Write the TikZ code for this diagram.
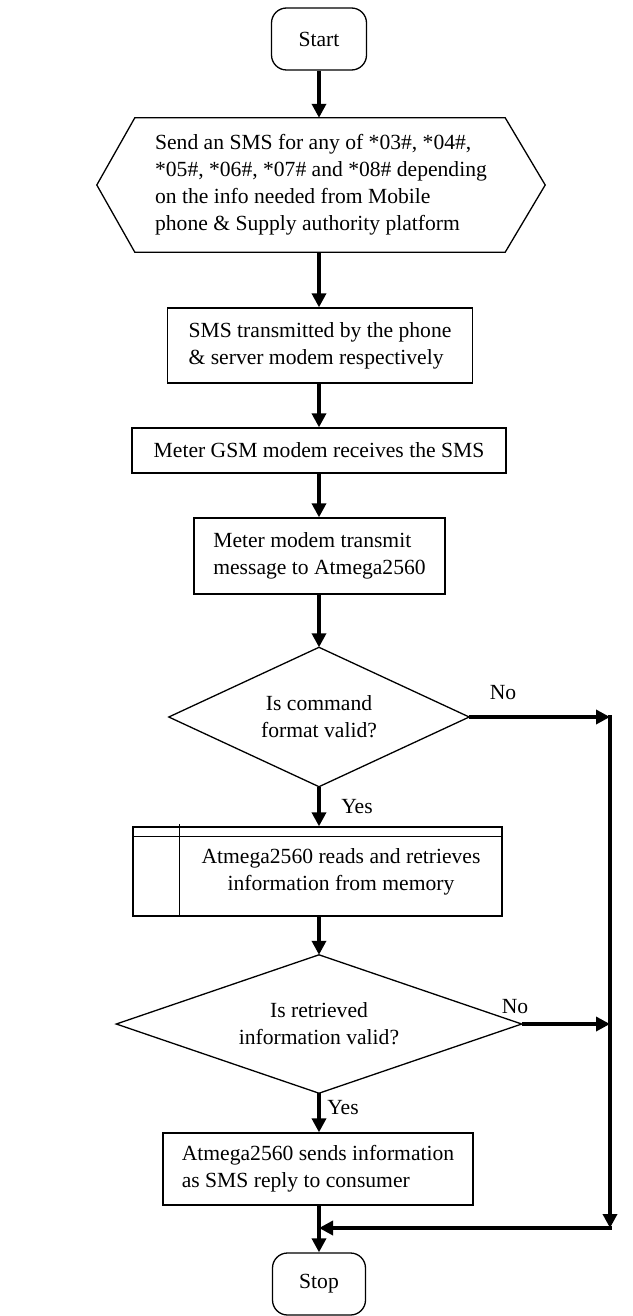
\documentclass[tikz,border=0pt]{standalone}
\usepackage{fontspec}
\setmainfont{Liberation Serif}
\usetikzlibrary{arrows.meta,calc}
\begin{document}
\begin{tikzpicture}[x=1pt,y=-1pt,
  every node/.style={font=\fontsize{21.6}{27}\selectfont},
  box/.style={draw, line width=1.3pt, align=left, inner sep=0pt},
  term/.style={draw, line width=1.3pt, rounded corners=15pt, inner sep=0pt},
  decision/.style={align=center, inner sep=0pt},
  shapeline/.style={line width=1.3pt},
  arr/.style={line width=3.4pt, -{Triangle[length=14pt,width=14pt]}},
  lbl/.style={inner sep=0pt}]
\useasboundingbox (0,0) rectangle (632,1316);

\node[term, minimum width=95pt, minimum height=62pt] (start) at (319,39) {Start};

\node[inner sep=0pt, minimum width=448pt, minimum height=134pt, align=left] (hex) at (321,185)
  {Send an SMS for any of *03\#, *04\#,\\*05\#, *06\#, *07\# and *08\# depending\\on the info needed from Mobile\\phone \& Supply authority platform};
\draw[shapeline] (hex.west) -- ($(hex.north west)+(38,0)$) -- ($(hex.north east)+(-40,0)$)
  -- (hex.east) -- ($(hex.south east)+(-40,0)$) -- ($(hex.south west)+(38,0)$) -- cycle;

\node[box, minimum width=305pt, minimum height=75pt] (b1) at (320,345.5)
  {SMS transmitted by the phone\\\& server modem respectively};
\node[box, minimum width=374pt, minimum height=45pt] (b2) at (319,450.5)
  {Meter GSM modem receives the SMS};
\node[box, minimum width=251pt, minimum height=76pt] (b3) at (319.5,556)
  {Meter modem transmit\\message to Atmega2560};

\node[decision, minimum width=300pt, minimum height=139pt] (d1) at (319,717)
  {Is command\\format valid?};
\draw[shapeline] (d1.north) -- (d1.east) -- (d1.south) -- (d1.west) -- cycle;

\node[box, minimum width=369pt, minimum height=89pt] (sub) at (317.5,871.5) {};
\node[align=center, inner sep=0pt] (subt) at (341,872)
  {Atmega2560 reads and retrieves\\information from memory};
\draw[shapeline] ($(sub.north west)+(47,-2)$) -- ($(sub.south west)+(47,0)$);
\draw[shapeline] ($(sub.north west)+(0,10)$) -- ($(sub.north east)+(0,10)$);

\node[decision, minimum width=405pt, minimum height=138pt] (d2) at (319,1024)
  {Is retrieved\\information valid?};
\draw[shapeline] (d2.north) -- (d2.east) -- (d2.south) -- (d2.west) -- cycle;

\node[box, minimum width=310pt, minimum height=72pt] (b4) at (318,1169)
  {Atmega2560 sends information\\as SMS reply to consumer};

\node[term, minimum width=93pt, minimum height=62pt] (stop) at (319,1284) {Stop};

\node[lbl] (no1) at (503,693) {No};
\node[lbl] (yes1) at (357,807) {Yes};
\node[lbl] (no2) at (515,1007) {No};
\node[lbl] (yes2) at (343,1108) {Yes};

\coordinate (rt) at (610,717);
\coordinate (rb) at (610,1228);
\coordinate (jn) at (319,1228);

\draw[arr] (start.south) -- (start.south |- hex.north);
\draw[arr] (start.south |- hex.south) -- (start.south |- b1.north);
\draw[arr] (start.south |- b1.south) -- (start.south |- b2.north);
\draw[arr] (b2.south) -- (b2.south |- b3.north);
\draw[arr] (d1.north |- b3.south) -- (d1.north);
\draw[arr] (d1.south) -- (d1.south |- sub.north);
\draw[arr] (d1.south |- sub.south) -- (d2.north);
\draw[arr] (d2.south) -- (d2.south |- b4.north);
\draw[arr] (stop.north |- b4.south) -- (stop.north);
\draw[arr] (d1.east) -- (d1.east -| rt);
\draw[arr] (d2.east) -- (d2.east -| rt);
\draw[arr] ([yshift=1.7pt]rt) -- (rb);
\draw[arr] ([xshift=1.7pt]rb) -- (jn);
\end{tikzpicture}
\end{document}
